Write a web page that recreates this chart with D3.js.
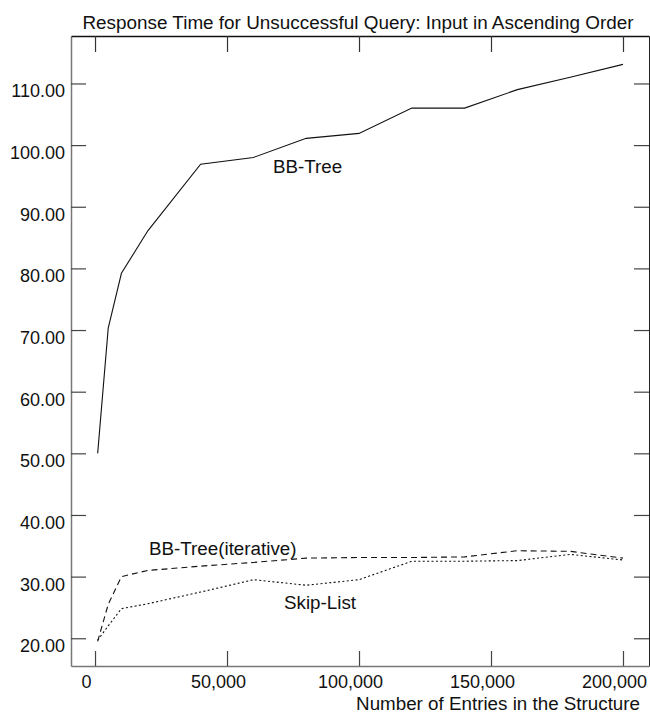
<!DOCTYPE html>
<html>
<head>
<meta charset="utf-8">
<script src="https://cdn.jsdelivr.net/npm/d3@7"></script>
<style>
  html, body { margin: 0; padding: 0; background: #fff; }
  svg { display: block; }
  text { font-family: "Liberation Sans", Arial, Helvetica, sans-serif; fill: #111; }
</style>
</head>
<body>
<svg id="chart" width="650" height="713"></svg>
<script>
// Number of entries stored (x) and response times for each structure (y)
const entries    = [1000, 5000, 10000, 20000, 40000, 60000, 80000, 100000, 120000, 140000, 160000, 180000, 200000];
const bbTree     = [50.0, 70.3, 79.2, 86.1, 96.9, 98.0, 101.1, 101.9, 106.0, 106.0, 109.0, 111.0, 113.1];
const bbTreeIter = [19.5, 25.5, 30.0, 31.0, 31.7, 32.3, 33.0, 33.1, 33.1, 33.2, 34.2, 34.1, 33.0];
const skipList   = [19.7, 22.0, 24.8, 25.6, 27.5, 29.5, 28.6, 29.5, 32.5, 32.5, 32.6, 33.6, 32.7];

const xTicks = [0, 50000, 100000, 150000, 200000];
const yTicks = [20, 30, 40, 50, 60, 70, 80, 90, 100, 110];

const titleText = "Response Time for Unsuccessful Query: Input in Ascending Order";
const xTitle = "Number of Entries in the Structure";

const seriesList = [
  { name: "BB-Tree",            values: bbTree,     dash: null,    label: [273, 173] },
  { name: "BB-Tree(iterative)", values: bbTreeIter, dash: "6,4",   label: [149, 555] },
  { name: "Skip-List",          values: skipList,   dash: "2,2.4", label: [284, 609] }
];

const svg = d3.select("#chart");
const plotL = 71, plotR = 649, plotT = 36, plotB = 666;

const x = d3.scaleLinear().domain([-9100, 209850]).range([plotL, plotR]);
const y = d3.scaleLinear().domain([15.5, 117.7]).range([plotB, plotT]);

// Title
svg.append("text")
  .attr("x", (plotL + plotR) / 2 - 2).attr("y", 29)
  .attr("text-anchor", "middle")
  .style("font-size", "18.9px")
  .text(titleText);

// Left axis with inward ticks; labels hang just below their tick
const yAxis = svg.append("g").attr("transform", `translate(${plotL},0)`)
  .call(d3.axisLeft(y).tickValues(yTicks).tickSize(-15).tickSizeOuter(0)
    .tickPadding(6).tickFormat(d3.format(".2f")));
yAxis.select(".domain").attr("stroke", "#777").attr("stroke-width", 1.5);
yAxis.selectAll(".tick line").attr("stroke", "#444").attr("stroke-width", 1.2);
yAxis.selectAll(".tick text").attr("dy", 13.5).style("font-size", "18px")
  .attr("font-family", null).attr("fill", "#111");

// Right axis (ticks only)
const yAxisR = svg.append("g").attr("transform", `translate(${plotR},0)`)
  .call(d3.axisRight(y).tickValues(yTicks).tickSize(-15).tickSizeOuter(0).tickFormat(""));
yAxisR.select(".domain").attr("stroke", "#222").attr("stroke-width", 1);
yAxisR.selectAll(".tick line").attr("stroke", "#444").attr("stroke-width", 1.2);

// Bottom axis
const xAxis = svg.append("g").attr("transform", `translate(0,${plotB})`)
  .call(d3.axisBottom(x).tickValues(xTicks).tickSize(-15).tickSizeOuter(0)
    .tickPadding(9.5).tickFormat(d3.format(",")));
xAxis.select(".domain").attr("stroke", "#777").attr("stroke-width", 1.5);
xAxis.selectAll(".tick line").attr("stroke", "#444").attr("stroke-width", 1.2);
xAxis.selectAll(".tick text").attr("dx", -9).style("font-size", "18px")
  .attr("font-family", null).attr("fill", "#111");

// Top axis (ticks only)
const xAxisT = svg.append("g").attr("transform", `translate(0,${plotT})`)
  .call(d3.axisTop(x).tickValues(xTicks).tickSize(-16).tickSizeOuter(0).tickFormat(""));
xAxisT.select(".domain").attr("stroke", "#111").attr("stroke-width", 1.3);
xAxisT.selectAll(".tick line").attr("stroke", "#333").attr("stroke-width", 1.2);

// X axis title, right aligned
svg.append("text")
  .attr("x", 640).attr("y", 710)
  .attr("text-anchor", "end")
  .style("font-size", "18.8px")
  .text(xTitle);

// Series lines
const line = d3.line()
  .x((d, i) => x(entries[i]))
  .y(d => y(d));

seriesList.forEach(s => {
  svg.append("path")
    .datum(s.values)
    .attr("d", line)
    .attr("fill", "none")
    .attr("stroke", "#111")
    .attr("stroke-width", 1.1)
    .attr("stroke-dasharray", s.dash);
  svg.append("text")
    .attr("x", s.label[0]).attr("y", s.label[1])
    .style("font-size", "18.8px")
    .text(s.name);
});
</script>
</body>
</html>
